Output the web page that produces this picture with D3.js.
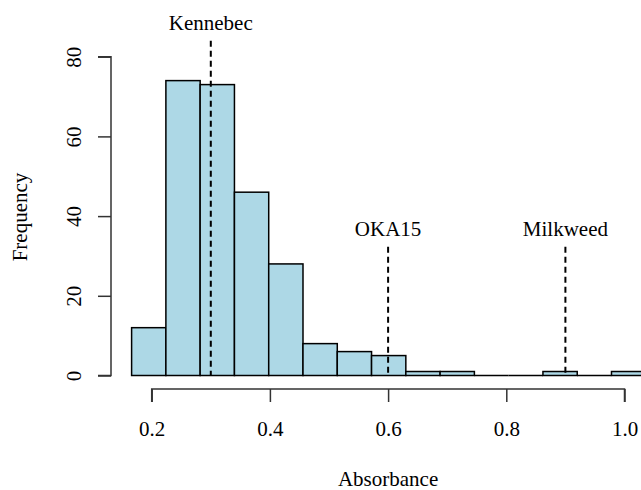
<!DOCTYPE html>
<html>
<head>
<meta charset="utf-8">
<script src="https://cdn.jsdelivr.net/npm/d3@7"></script>
<style>
	body { margin: 0; background: #fff; }
	text { font-family: "Liberation Serif", "DejaVu Serif", serif; fill: #000; }
</style>
</head>
<body>
<div id="chart"></div>
<script>
// histogram bins (left edges) and counts
var binEdges = [0.166, 0.224, 0.282, 0.340, 0.398, 0.456, 0.514, 0.572, 0.630, 0.688, 0.746, 0.804, 0.862, 0.920, 0.978, 1.036];
var counts = [12, 74, 73, 46, 28, 8, 6, 5, 1, 1, 0, 0, 1, 0, 1];

// reference varieties
var refNames = ['Kennebec', 'OKA15', 'Milkweed'];
var refValues = [0.3, 0.6, 0.9];
var refTops = [84, 32.3, 32.3];

var xTicks = [0.2, 0.4, 0.6, 0.8, 1.0];
var yTicks = [0, 20, 40, 60, 80];

var width = 641,
	height = 490,
	fontSize = 21;

var x = d3.scaleLinear()
	.domain([0.2, 1.0])
	.range([151.7, 624.5]);

var y = d3.scaleLinear()
	.domain([0, 80])
	.range([375.5, 56.7]);

var svg = d3.select('#chart').append('svg')
	.attr('width', width)
	.attr('height', height);

var bins = counts.map(function(c, i) {
	return {x0: binEdges[i], x1: binEdges[i + 1], count: c};
});

// bars
svg.append('g').selectAll('rect')
	.data(bins.filter(function(d) { return d.count > 0; }))
	.enter().append('rect')
	.attr('x', function(d) { return x(d.x0); })
	.attr('y', function(d) { return y(d.count); })
	.attr('width', function(d) { return x(d.x1) - x(d.x0); })
	.attr('height', function(d) { return y(0) - y(d.count); })
	.style('fill', '#add8e6')
	.style('stroke', '#000')
	.style('stroke-width', 1.5);

// empty bins still get their flat outline, like R does
svg.append('g').selectAll('line')
	.data(bins.filter(function(d) { return d.count === 0; }))
	.enter().append('line')
	.attr('x1', function(d) { return x(d.x0); })
	.attr('x2', function(d) { return x(d.x1); })
	.attr('y1', y(0))
	.attr('y2', y(0))
	.style('stroke', '#000')
	.style('stroke-width', 1.5);

// reference lines
var refs = svg.append('g').selectAll('g')
	.data(refValues)
	.enter().append('g');

refs.append('line')
	.attr('x1', function(d) { return x(d); })
	.attr('x2', function(d) { return x(d); })
	.attr('y1', function(d, i) { return y(refTops[i]); })
	.attr('y2', y(0))
	.style('stroke', '#000')
	.style('stroke-width', 2)
	.style('stroke-dasharray', '6,4');

refs.append('text')
	.attr('x', function(d) { return x(d); })
	.attr('y', function(d, i) { return y(refTops[i]) - 11; })
	.attr('text-anchor', 'middle')
	.style('font-size', fontSize + 'px')
	.text(function(d, i) { return refNames[i]; });

// x axis, R style
var xAxis = d3.axisBottom(x)
	.tickValues(xTicks)
	.tickSize(13)
	.tickPadding(20)
	.tickFormat(d3.format('.1f'));

var gx = svg.append('g')
	.attr('transform', 'translate(0,389)')
	.call(xAxis);
gx.select('.domain').attr('d', 'M' + x(0.2) + ',13V0H' + x(1.0) + 'V13');
gx.selectAll('path, line').style('stroke', '#333').style('stroke-width', 1.5);
gx.selectAll('text')
	.style('font-size', fontSize + 'px')
	.style('font-family', '"Liberation Serif", serif')
	.attr('dy', '0.71em')
	.attr('y', 32);

// y axis, labels rotated
var yAxis = d3.axisLeft(y)
	.tickValues(yTicks)
	.tickSize(13);

var gy = svg.append('g')
	.attr('transform', 'translate(111,0)')
	.call(yAxis);
gy.select('.domain').attr('d', 'M-13,' + y(0) + 'H0V' + y(80) + 'H-13');
gy.selectAll('path, line').style('stroke', '#333').style('stroke-width', 1.5);
gy.selectAll('text')
	.attr('x', null)
	.attr('dy', null)
	.attr('text-anchor', 'middle')
	.attr('transform', 'translate(-30,0) rotate(-90)')
	.style('font-size', fontSize + 'px')
	.style('font-family', '"Liberation Serif", serif');

// axis titles
svg.append('text')
	.attr('x', x(0.6))
	.attr('y', 486)
	.attr('text-anchor', 'middle')
	.style('font-size', fontSize + 'px')
	.text('Absorbance');

svg.append('text')
	.attr('transform', 'translate(27,217) rotate(-90)')
	.attr('text-anchor', 'middle')
	.style('font-size', fontSize + 'px')
	.text('Frequency');
</script>
</body>
</html>
